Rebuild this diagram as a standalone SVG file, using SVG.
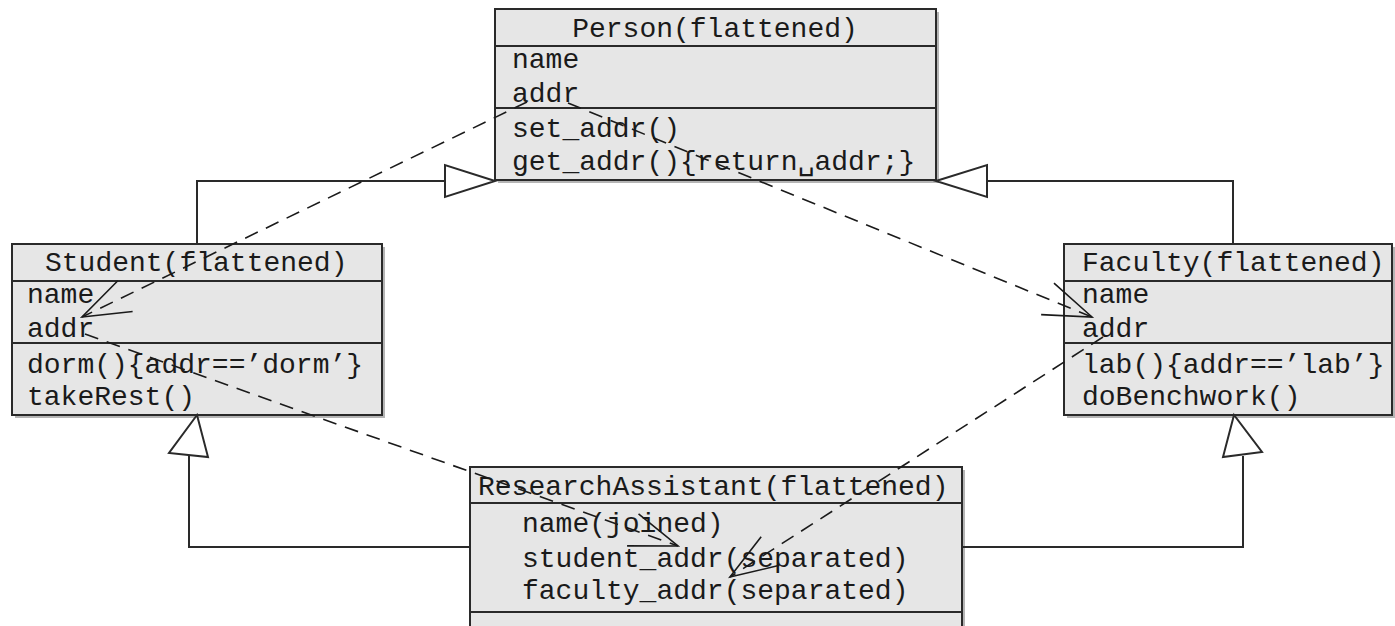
<svg xmlns="http://www.w3.org/2000/svg" width="1395" height="626" viewBox="0 0 1395 626">
<defs>
<style>
.box{fill:#e6e6e6;stroke:#2a2a2a;stroke-width:2}
.shadow{fill:#b5b5b5}
.div{stroke:#2a2a2a;stroke-width:2}
.t{font-family:"Liberation Mono","DejaVu Sans Mono",monospace;font-size:28px;fill:#1a1a1a}
.line{fill:none;stroke:#2a2a2a;stroke-width:2}
.tri{fill:#ffffff;stroke:#2a2a2a;stroke-width:2;stroke-linejoin:miter}
.dash{fill:none;stroke:#1a1a1a;stroke-width:1.6;stroke-dasharray:14 9}
.head{fill:none;stroke:#1a1a1a;stroke-width:1.6}
</style>
<marker id="open" markerUnits="userSpaceOnUse" markerWidth="60" markerHeight="40" refX="50" refY="18" orient="auto" overflow="visible">
<path d="M2,1 L50,18 L2,35" class="head"/>
</marker>
</defs>
<rect width="1395" height="626" fill="#ffffff"/>

<g id="person">
<rect class="shadow" x="498" y="12" width="441" height="171"/>
<rect class="box" x="495" y="9" width="441" height="171"/>
<line class="div" x1="495" y1="46" x2="936" y2="46"/>
<line class="div" x1="495" y1="108" x2="936" y2="108"/>
<text class="t" x="715" y="37" text-anchor="middle">Person(flattened)</text>
<text class="t" x="512" y="68">name</text>
<text class="t" x="512" y="102">addr</text>
<text class="t" x="512" y="137">set_addr()</text>
<text class="t" x="512" y="170">get_addr(){return␣addr;}</text>
</g>

<g id="student">
<rect class="shadow" x="15" y="247" width="370" height="171"/>
<rect class="box" x="12" y="244" width="370" height="171"/>
<line class="div" x1="12" y1="281" x2="382" y2="281"/>
<line class="div" x1="12" y1="343" x2="382" y2="343"/>
<text class="t" x="45" y="271">Student(flattened)</text>
<text class="t" x="27" y="303">name</text>
<text class="t" x="27" y="337">addr</text>
<text class="t" x="27" y="373">dorm(){addr==’dorm’}</text>
<text class="t" x="27" y="405">takeRest()</text>
</g>

<g id="faculty">
<rect class="shadow" x="1067" y="247" width="328" height="171"/>
<rect class="box" x="1064" y="244" width="328" height="171"/>
<line class="div" x1="1064" y1="281" x2="1392" y2="281"/>
<line class="div" x1="1064" y1="343" x2="1392" y2="343"/>
<text class="t" x="1082" y="271">Faculty(flattened)</text>
<text class="t" x="1082" y="303">name</text>
<text class="t" x="1082" y="337">addr</text>
<text class="t" x="1082" y="373">lab(){addr==’lab’}</text>
<text class="t" x="1082" y="405">doBenchwork()</text>
</g>

<g id="researchassistant">
<rect class="shadow" x="473" y="470" width="492" height="170"/>
<rect class="box" x="470" y="467" width="492" height="170"/>
<line class="div" x1="470" y1="503" x2="962" y2="503"/>
<line class="div" x1="470" y1="612" x2="962" y2="612"/>
<text class="t" x="478" y="495">ResearchAssistant(flattened)</text>
<text class="t" x="522" y="532">name(joined)</text>
<text class="t" x="522" y="567">student_addr(separated)</text>
<text class="t" x="522" y="599">faculty_addr(separated)</text>
</g>

<g id="connectors">
<polyline class="line" points="197,244 197,181 445,181"/>
<polygon class="tri" points="495,181 445,165 445,197"/>
<polyline class="line" points="1233,244 1233,181 987,181"/>
<polygon class="tri" points="936,181 987,165 987,197"/>
<polyline class="line" points="189,456 189,547 470,547"/>
<polygon class="tri" points="197,415 169,453 208,457"/>
<polyline class="line" points="1243,456 1243,547 962,547"/>
<polygon class="tri" points="1234,415 1223,457 1262,452"/>
<line class="dash" x1="568" y1="103" x2="1092" y2="317" marker-end="url(#open)"/>
<line class="dash" x1="527" y1="102" x2="82" y2="317" marker-end="url(#open)"/>
<line class="dash" x1="85" y1="334" x2="678" y2="546" marker-end="url(#open)"/>
<line class="dash" x1="1103" y1="337" x2="730" y2="577" marker-end="url(#open)"/>
</g>
</svg>
